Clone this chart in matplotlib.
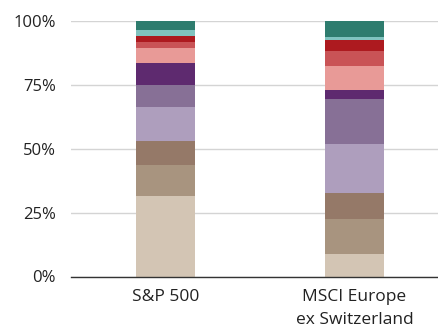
import numpy as np
import matplotlib.pyplot as plt

plt.rcParams['font.family'] = ['Open Sans', 'DejaVu Sans']

categories = ['S&P 500', 'MSCI Europe\nex Switzerland']

# segment shares in %, bottom to top
beige = [31.6, 8.9]
tan = [11.9, 13.5]
brown = [9.7, 10.2]
light_purple = [13.2, 19.3]
mid_purple = [8.4, 17.6]
dark_purple = [8.9, 3.5]
pink = [5.7, 9.4]
mid_red = [2.4, 5.9]
dark_red = [2.3, 4.3]
light_teal = [2.2, 1.1]
dark_teal = [3.7, 6.3]

yticks = [0, 25, 50, 75, 100]
ytick_labels = ['0%', '25%', '50%', '75%', '100%']

segments = [beige, tan, brown, light_purple, mid_purple, dark_purple,
            pink, mid_red, dark_red, light_teal, dark_teal]
colors = ['#d3c5b4', '#a8947f', '#957968', '#ae9ebd', '#877096', '#5e2a6f',
          '#e89a97', '#c95356', '#ad1a1f', '#80c3bf', '#2e7c6e']

fig = plt.figure(figsize=(4.38, 3.26), dpi=100)
ax = fig.add_axes([71 / 438, 49.5 / 326, 1 - 71 / 438, 255.5 / 326])

x = np.arange(len(categories))
bottom = np.zeros(len(categories))
for vals, c in zip(segments, colors):
    ax.bar(x, vals, bottom=bottom, width=0.312, color=c, linewidth=0, zorder=3)
    bottom += np.array(vals)

ax.set_xlim(-0.5, 1.442)
ax.set_ylim(0, 100)
ax.set_yticks(yticks)
ax.set_yticklabels(ytick_labels)
ax.set_xticks(x)
ax.set_xticklabels(categories, fontsize=12.5, linespacing=1.55)
ax.tick_params(axis='both', length=0, colors='#222222')
ax.tick_params(axis='y', pad=11, labelsize=12)
ax.tick_params(axis='x', pad=9)

ax.yaxis.grid(True, color='#d4d4d4', linewidth=1, zorder=0)
ax.set_axisbelow(True)
for s in ['top', 'right', 'left']:
    ax.spines[s].set_visible(False)
ax.spines['bottom'].set_color('#333333')
ax.spines['bottom'].set_linewidth(1)
ax.spines['bottom'].set_zorder(4)

fig.savefig('out.png', dpi=100)
